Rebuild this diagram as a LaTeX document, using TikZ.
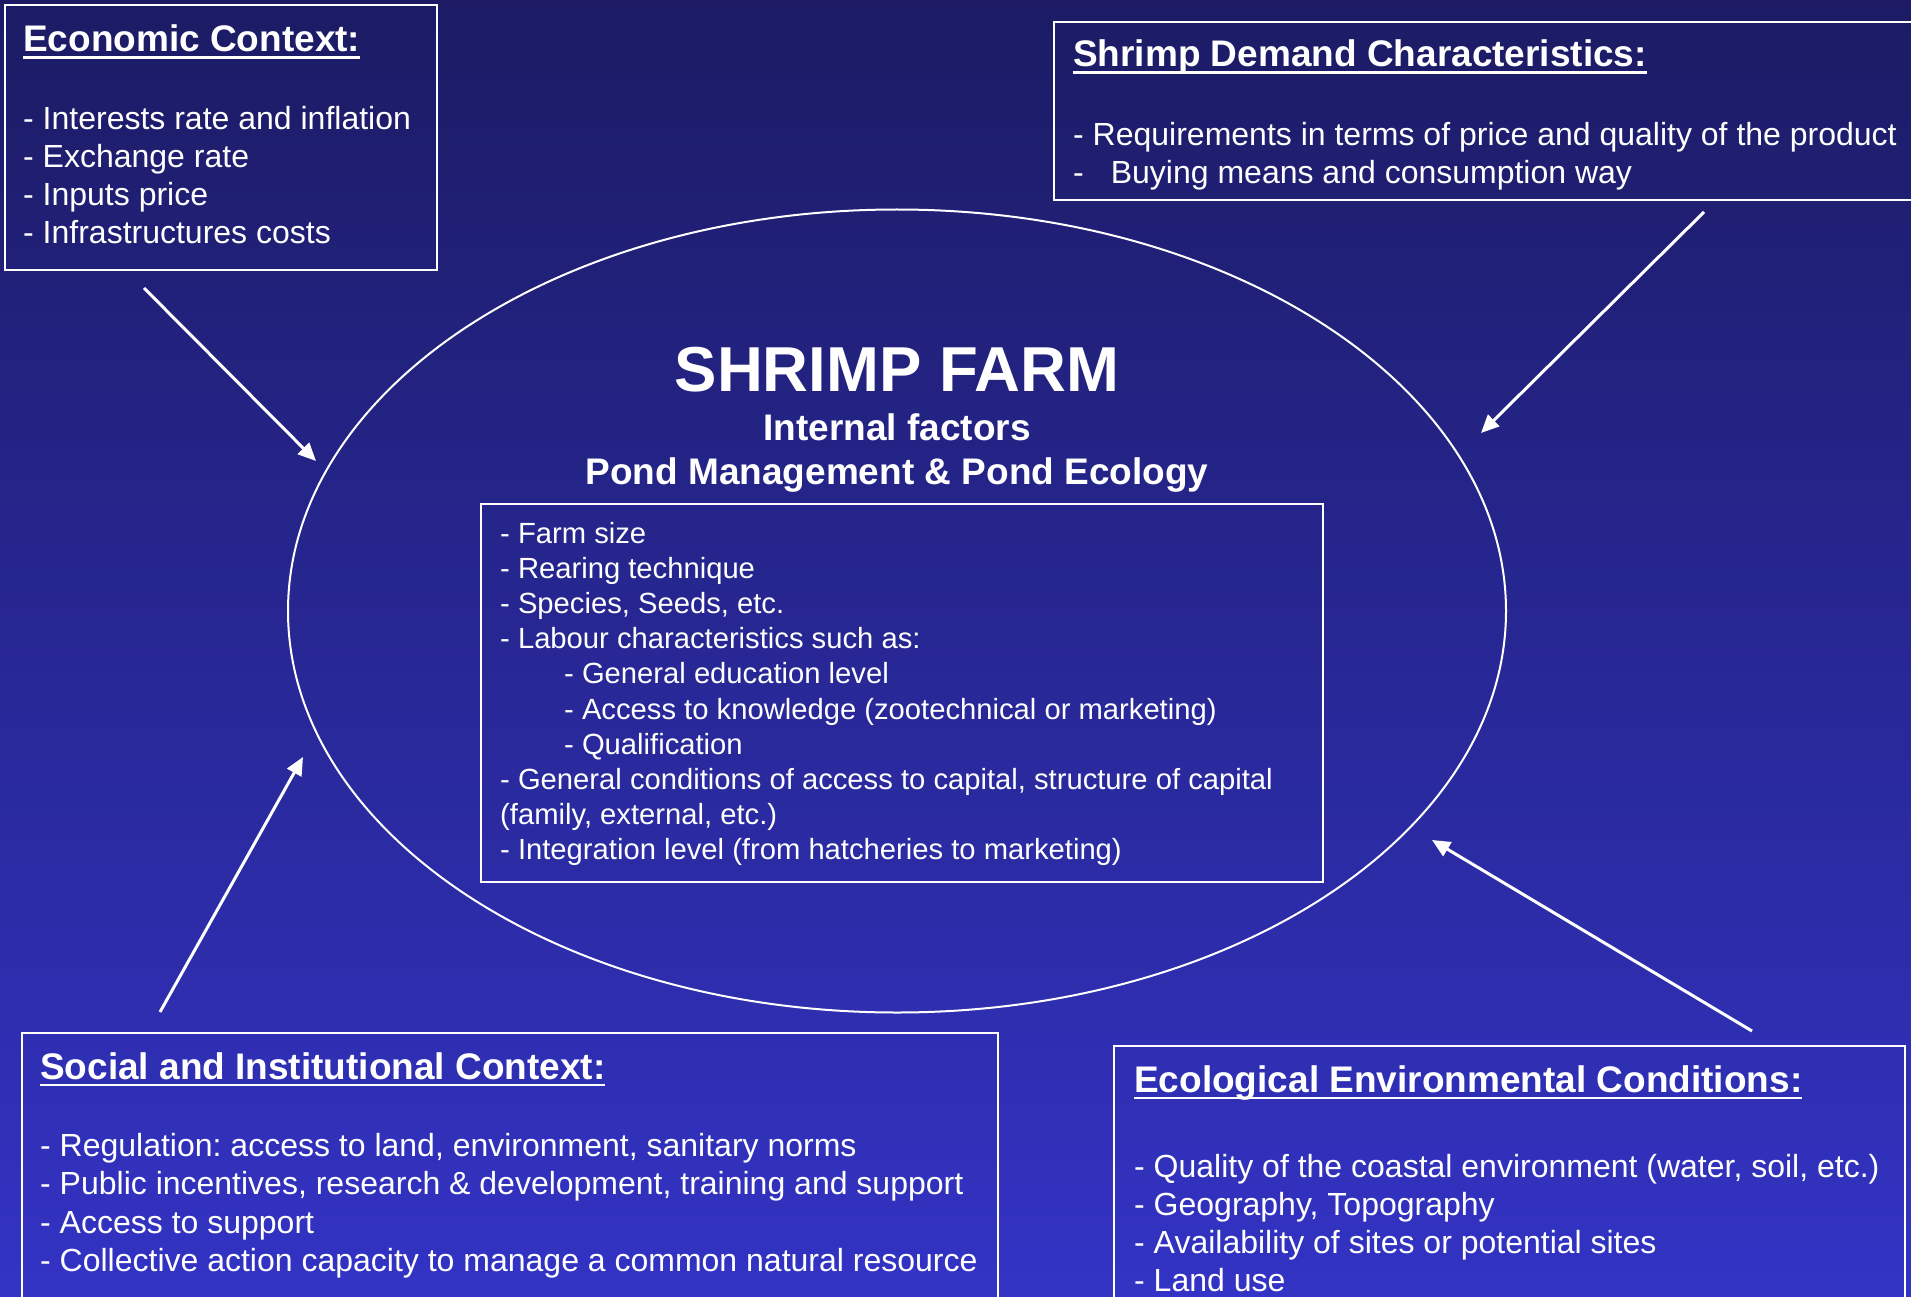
\documentclass[tikz,border=0pt]{standalone}
\usepackage{fontspec}
\setmainfont{Liberation Sans}
\usetikzlibrary{arrows.meta,shapes.geometric}
\definecolor{bgtop}{RGB}{28,27,100}
\definecolor{bgbot}{RGB}{51,51,197}
\newcommand\myul[1]{\setbox0\hbox{#1}\rlap{\rule[-7pt]{\wd0}{2.5pt}}\box0}
\frenchspacing
\begin{document}
\begin{tikzpicture}[x=1pt,y=-1pt,
  frame/.style={draw=white,line width=2pt,inner sep=0,anchor=north west},
  body/.style={text=white,inner sep=0,anchor=base west,font=\frenchspacing\fontsize{32}{38}\selectfont},
  ibody/.style={text=white,inner sep=0,anchor=base west,font=\frenchspacing\fontsize{29.2}{35}\selectfont},
  ttl/.style={text=white,inner sep=0,anchor=base west,font=\bfseries\fontsize{37}{44}\selectfont},
  ctr/.style={text=white,inner sep=0,anchor=base,font=\bfseries\fontsize{37}{44}\selectfont},
  arr/.style={white,line width=3pt,-{Triangle[length=18pt,width=16pt]}}]
\useasboundingbox (0,0) rectangle (1911,1297);
\clip (0,0) rectangle (1911,1297);
\shade[top color=bgtop,bottom color=bgbot] (0,0) rectangle (1911,1297);

% Economic context
\node[frame,minimum width=432pt,minimum height=265pt] (ecobox) at (4,4) {};
\node[ttl] (ecot) at (23,52) {\myul{Economic Context:}};
\foreach \txt [count=\i] in {{- Interests rate and inflation},{- Exchange rate},{- Inputs price},{- Infrastructures costs}}
  \node[body] (eco\i) at (23,{130+(\i-1)*38}) {\txt};

% Shrimp demand
\node[frame,minimum width=880pt,minimum height=178pt] (dembox) at (1053,21) {};
\node[ttl] (demt) at (1073,67) {\myul{Shrimp Demand Characteristics:}};
\node[body] (dem1) at (1073,146) {- Requirements in terms of price and quality of the product};
\node[body] (dem2) at (1073,184) {-\hspace{27pt}Buying means and consumption way};

% Ellipse
\node[draw=white,line width=2pt,ellipse,minimum width=1218pt,minimum height=803pt,inner sep=0] (farm) at (897,611) {};
\node[text=white,inner sep=0,anchor=base,font=\bfseries\fontsize{63.5}{70}\selectfont] (farmt) at (897,391) {SHRIMP FARM};
\node[ctr] (int) at (897,440) {Internal factors};
\node[ctr] (pond) at (897,484) {Pond Management \& Pond Ecology};

% Inner box
\node[frame,minimum width=842pt,minimum height=378pt] (inbox) at (480,503) {};
\foreach \xx/\txt [count=\i] in {500/{- Farm size},500/{- Rearing technique},500/{- Species, Seeds, etc.},500/{- Labour characteristics such as:},564/{- General education level},564/{- Access to knowledge (zootechnical or marketing)},564/{- Qualification},500/{- General conditions of access to capital, structure of capital},500/{(family, external, etc.)},500/{- Integration level (from hatcheries to marketing)}}
  \node[ibody] (in\i) at (\xx,{543+(\i-1)*35.2}) {\txt};

% Social and institutional
\node[frame,minimum width=976pt,minimum height=300pt] (socbox) at (21,1032) {};
\node[ttl] (soct) at (40,1079) {\myul{Social and Institutional Context:}};
\foreach \txt [count=\i] in {{- Regulation: access to land, environment, sanitary norms},{- Public incentives, research \& development, training and support},{- Access to support},{- Collective action capacity to manage a common natural resource}}
  \node[body] (soc\i) at (40,{1156+(\i-1)*38.5}) {\txt};

% Ecological
\node[frame,minimum width=791pt,minimum height=300pt] (ecolbox) at (1113,1045) {};
\node[ttl] (ecolt) at (1134,1092) {\myul{Ecological Environmental Conditions:}};
\foreach \txt [count=\i] in {{- Quality of the coastal environment (water, soil, etc.)},{- Geography, Topography},{- Availability of sites or potential sites},{- Land use}}
  \node[body] (ecol\i) at (1134,{1177+(\i-1)*38}) {\txt};

% Arrows
\coordinate (a1s) at (144,288); \coordinate (a1t) at (316,461);
\coordinate (a2s) at (1704,212); \coordinate (a2t) at (1481,433);
\coordinate (a3s) at (160,1012); \coordinate (a3t) at (303,757);
\coordinate (a4s) at (1752,1031); \coordinate (a4t) at (1432,840);
\draw[arr] (a1s) -- (a1t);
\draw[arr] (a2s) -- (a2t);
\draw[arr] (a3s) -- (a3t);
\draw[arr] (a4s) -- (a4t);
\end{tikzpicture}
\end{document}
